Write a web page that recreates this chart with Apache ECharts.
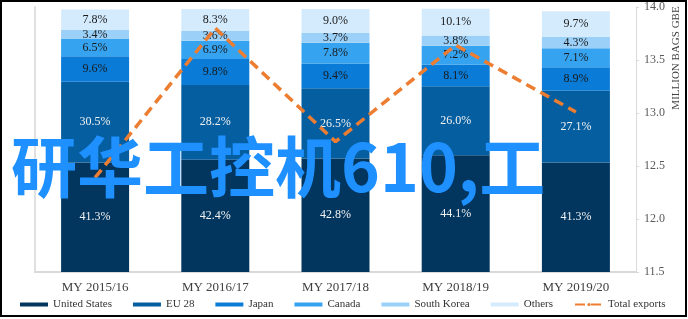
<!DOCTYPE html>
<html>
<head>
<meta charset="utf-8">
<script src="https://cdn.jsdelivr.net/npm/echarts@6/dist/echarts.min.js"></script>
<style>
html,body{margin:0;padding:0;background:#fff;}
#c{width:688px;height:319px;}
</style>
</head>
<body>
<div id="c"></div>
<script>
const categories = ['MY 2015/16','MY 2016/17','MY 2017/18','MY 2018/19','MY 2019/20'];
const unitedStates = [41.3, 42.4, 42.8, 44.1, 41.3];
const eu28 = [30.5, 28.2, 26.5, 26.0, 27.1];
const japan = [9.6, 9.8, 9.4, 8.1, 8.9];
const canada = [6.5, 6.9, 7.8, 7.2, 7.1];
const southKorea = [3.4, 3.6, 3.7, 3.8, 4.3];
const others = [7.8, 8.3, 9.0, 10.1, 9.7];
const totalExports = [12.39, 13.80, 12.73, 13.64, 13.01];
const seriesNames = ['United States','EU 28','Japan','Canada','South Korea','Others','Total exports'];
const axisName = 'MILLION BAGS GBE';
const overlayText = '研华工控机610,工';

const serif = '"Liberation Serif", "Times New Roman", serif';
const barColors = ['#02365f','#055e9f','#0a7bd6','#36a3f1','#9bd0f8','#d4ebfd'];
const labelColors = ['#f2f2f2','#f2f2f2','#1a1a1a','#1a1a1a','#1a1a1a','#1a1a1a'];
const barData = [unitedStates, eu28, japan, canada, southKorea, others];

const chart = echarts.init(document.getElementById('c'));

const series = barData.map((d, i) => ({
  name: seriesNames[i],
  type: 'bar',
  stack: 'share',
  yAxisIndex: 0,
  barWidth: 68,
  data: d,
  itemStyle: { color: barColors[i] },
  label: {
    show: true,
    position: 'inside',
    formatter: p => p.value.toFixed(1) + '%',
    color: labelColors[i],
    fontFamily: serif,
    fontSize: 12
  },
  z: 2
}));
series.push({
  name: seriesNames[6],
  type: 'line',
  yAxisIndex: 1,
  data: totalExports,
  symbol: 'none',
  lineStyle: { color: '#ed7d31', width: 3.5, type: [10, 6] },
  itemStyle: { color: '#ed7d31' },
  z: 5
});

chart.setOption({
  animation: false,
  grid: { left: 35, right: 52, top: 7, bottom: 47 },
  xAxis: {
    type: 'category',
    data: categories,
    axisLine: { lineStyle: { color: '#d9d9d9', width: 2 } },
    axisTick: { show: false },
    axisLabel: { color: '#404040', fontFamily: serif, fontSize: 13, margin: 9 }
  },
  yAxis: [
    {
      type: 'value', min: 0, max: 100,
      axisLine: { show: true, lineStyle: { color: '#e0e0e0', width: 2 } },
      axisTick: { show: false },
      axisLabel: { show: false },
      splitLine: { show: false }
    },
    {
      type: 'value', min: 11.5, max: 14, interval: 0.5, position: 'right',
      axisLine: { show: true, lineStyle: { color: '#d9d9d9', width: 1 } },
      axisTick: { show: true, length: 3, lineStyle: { color: '#d9d9d9' } },
      axisLabel: { color: '#595959', fontFamily: serif, fontSize: 12, margin: 8, formatter: v => v.toFixed(1) },
      splitLine: { show: false }
    }
  ],
  legend: {
    left: 20, top: 299, width: 668, padding: 0,
    itemWidth: 28, itemHeight: 4, itemGap: 21,
    textStyle: { fontFamily: serif, fontSize: 11, color: '#333' },
    data: seriesNames.map((n, i) => i < 6 ? { name: n, icon: 'rect' } : { name: n })
  },
  series: series,
  graphic: [
    {
      type: 'text', x: 676, y: 58, rotation: Math.PI / 2, z: 10,
      style: { text: axisName, fontFamily: serif, fontSize: 11, fill: '#404040', textAlign: 'center', textVerticalAlign: 'middle' }
    },
    {
      type: 'text', x: 11, y: 167, z: 100,
      style: { text: overlayText, fontFamily: '"Noto Sans CJK SC", sans-serif', fontWeight: 'bold', fontSize: 66, fill: '#1e90ff', textAlign: 'left', textVerticalAlign: 'middle' }
    },
    {
      type: 'rect', z: 100, silent: true,
      shape: { x: 1, y: 1, width: 685, height: 315 },
      style: { fill: 'none', stroke: '#000', lineWidth: 2 }
    }
  ]
});
</script>
</body>
</html>
